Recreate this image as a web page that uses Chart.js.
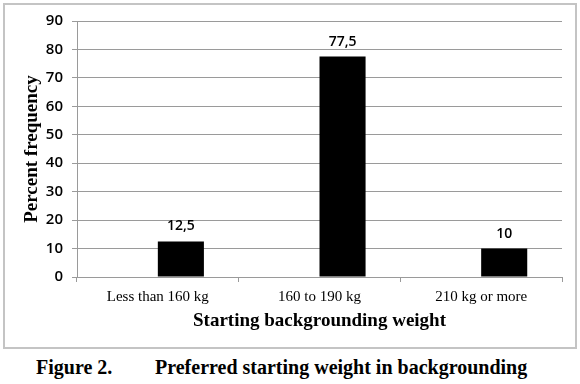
<!DOCTYPE html>
<html lang="en">
<head>
  <meta charset="UTF-8">
  <title>Preferred starting weight in backgrounding</title>
  <script src="https://cdn.jsdelivr.net/npm/chart.js"></script>
  <style>
    body {
      margin: 0;
      background: #fff;
      width: 580px;
      height: 384px;
      position: relative;
      overflow: hidden;
    }
    .frame {
      position: absolute;
      left: 3px;
      top: 3px;
      width: 570px;
      height: 342px;
      border: 2px solid #c4c4c4;
    }
    .wrap {
      position: absolute;
      left: 0;
      top: 0;
      width: 580px;
      height: 350px;
    }
    .caption {
      position: absolute;
      top: 356px;
      font: bold 20px 'Liberation Serif', 'Times New Roman', serif;
      line-height: 22px;
      color: #000;
      white-space: nowrap;
    }
  </style>
</head>
<body>
  <div class="frame"></div>
  <div class="wrap"><canvas id="weightChart"></canvas></div>
  <div class="caption" style="left:36px">Figure 2.</div>
  <div class="caption" style="left:155px">Preferred starting weight in backgrounding</div>

  <script>
    const categories = ['Less than 160 kg', '160 to 190 kg', '210 kg or more'];
    // first Excel series is empty, it only shifts the bars off the category centre
    const emptySeries = [null, null, null];
    const percentFrequency = [12.5, 77.5, 10];
    const yMin = 0;
    const yMax = 90;
    const yStep = 10;

    const gridColor = '#9a9a9a';
    const serif = "'Liberation Serif', 'Times New Roman', serif";

    const valueLabels = {
      id: 'valueLabels',
      afterDatasetsDraw(chart) {
        const ctx = chart.ctx;
        const meta = chart.getDatasetMeta(1);
        ctx.save();
        ctx.font = "600 14px 'Open Sans', sans-serif";
        ctx.fillStyle = '#000';
        ctx.textAlign = 'center';
        ctx.textBaseline = 'middle';
        meta.data.forEach((bar, i) => {
          const txt = String(percentFrequency[i]).replace('.', ',');
          ctx.fillText(txt, bar.x, bar.y - 15);
        });
        ctx.restore();
      }
    };

    new Chart(document.getElementById('weightChart'), {
      type: 'bar',
      data: {
        labels: categories,
        datasets: [
          { label: 'empty', data: emptySeries, backgroundColor: '#000' },
          { label: 'Percent frequency', data: percentFrequency, backgroundColor: '#000' }
        ]
      },
      options: {
        responsive: true,
        maintainAspectRatio: false,
        animation: false,
        layout: { padding: { top: 21, right: 18, left: 0, bottom: 0 } },
        datasets: {
          bar: { categoryPercentage: 0.57, barPercentage: 1 }
        },
        plugins: {
          legend: { display: false },
          tooltip: { enabled: false }
        },
        scales: {
          x: {
            grid: {
              display: true,
              drawOnChartArea: false,
              drawTicks: true,
              tickLength: 5,
              color: gridColor,
              offset: true
            },
            border: { display: true, color: gridColor },
            ticks: {
              color: '#000',
              padding: 6,
              maxRotation: 0,
              font: { family: serif, size: 15 }
            },
            title: {
              display: true,
              text: 'Starting backgrounding weight',
              color: '#000',
              font: { family: serif, size: 19, weight: 'bold' },
              padding: { top: 0, bottom: 18 }
            },
            afterFit(scale) { scale.height = 73; }
          },
          y: {
            min: yMin,
            max: yMax,
            grid: {
              color: gridColor,
              tickLength: 5
            },
            border: { display: true, color: gridColor },
            ticks: {
              stepSize: yStep,
              color: '#000',
              padding: 9,
              font: { family: "'Open Sans', sans-serif", size: 15, weight: '600' }
            },
            title: {
              display: true,
              text: 'Percent frequency',
              color: '#000',
              font: { family: serif, size: 19, weight: 'bold' },
              padding: { top: 21, bottom: 0 }
            },
            afterFit(scale) { scale.width = 77; }
          }
        }
      },
      plugins: [valueLabels]
    });
  </script>
</body>
</html>
